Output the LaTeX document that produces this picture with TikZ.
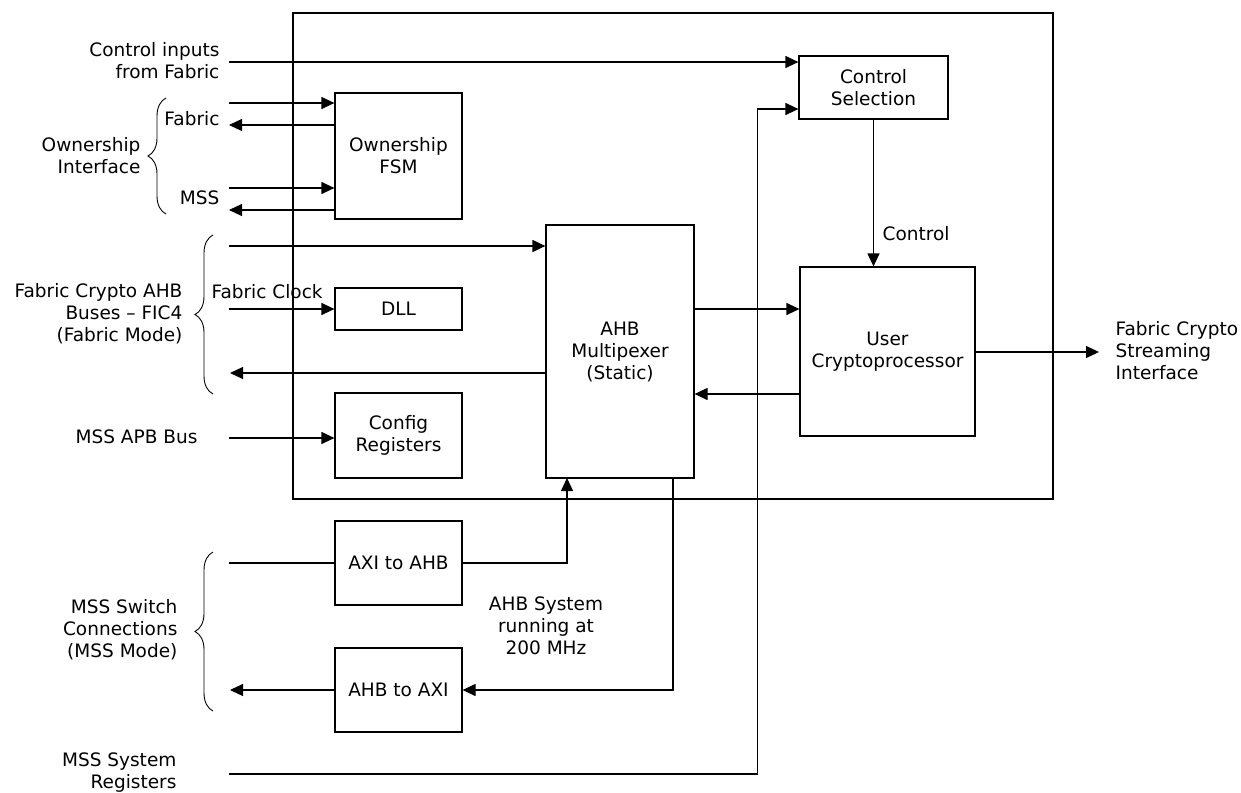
\documentclass[tikz,border=0pt]{standalone}
\usepackage{fontspec}
\setmainfont{DejaVu Sans}
\usetikzlibrary{arrows.meta,decorations.pathreplacing}
\begin{document}
\begin{tikzpicture}[x=1pt,y=-1pt,
  line width=1.2pt,
  every node/.style={font=\fontsize{18.5}{22}\selectfont, inner sep=0pt},
  blk/.style={draw, line width=1.2pt, align=center},
  arr/.style={-{Triangle[length=13pt,width=12pt]}},
  lbl/.style={align=right, anchor=east},
  brc/.style={decorate, decoration={brace, amplitude=18pt, aspect=0.5}, line width=0.9pt}
]
\useasboundingbox (0,0) rectangle (1241,792);

% outer box
\draw (293,13) rectangle (1053,499);

% blocks
\node[blk, minimum width=127pt, minimum height=126pt] (fsm) at (398.5,156) {Ownership\\FSM};
\node[blk, minimum width=127pt, minimum height=42pt] (dll) at (398.5,309) {DLL};
\node[blk, minimum width=127pt, minimum height=85pt] (cfg) at (398.5,435.5) {Config\\Registers};
\node[blk, minimum width=148pt, minimum height=253pt] (mux) at (620,351.5) {AHB\\Multipexer\\(Static)};
\node[blk, minimum width=149pt, minimum height=63pt] (cs) at (873.5,87.5) {Control\\Selection};
\node[blk, minimum width=175pt, minimum height=169pt] (uc) at (887.5,351.5) {User\\Cryptoprocessor};
\node[blk, minimum width=127pt, minimum height=84pt] (a2h) at (398.5,563) {AXI to AHB};
\node[blk, minimum width=127pt, minimum height=84pt] (h2a) at (398.5,690) {AHB to AXI};

% free ends
\coordinate (ci) at (229,62);
\coordinate (fabIn) at (229,103);
\coordinate (fabOut) at (229,125);
\coordinate (mssIn) at (229,188);
\coordinate (mssOut) at (229,210);
\coordinate (ahbIn) at (229,246);
\coordinate (clk) at (229,309);
\coordinate (ahbOut) at (230,373);
\coordinate (apb) at (229,438);
\coordinate (axiIn) at (229,563);
\coordinate (axiOut) at (230,690);
\coordinate (sysreg) at (229,774);
\coordinate (srTurn) at (757.5,774);
\coordinate (csIn2) at (757.5,109);
\coordinate (muxIn) at (567,478);
\coordinate (muxOut) at (673,478);
\coordinate (stream) at (1099,352);

% connectors
\draw[arr] (ci) -- (ci -| cs.west);
\draw[arr] (fabIn) -- (fabIn -| fsm.west);
\draw[arr] (fabOut -| fsm.west) -- (fabOut);
\draw[arr] (mssIn) -- (mssIn -| fsm.west);
\draw[arr] (mssOut -| fsm.west) -- (mssOut);
\draw[arr] (ahbIn) -- (ahbIn -| mux.west);
\draw[arr] (clk) -- (dll.west);
\draw[arr] (ahbOut -| mux.west) -- (ahbOut);
\draw[arr] (apb) -- (apb -| cfg.west);
\draw[arr] (mux.east |- 0,309) -- (uc.west |- 0,309);
\draw[arr] (uc.west |- 0,394) -- (mux.east |- 0,394);
\draw[arr] (cs.south) -- (cs.south |- uc.north);
\draw[arr] (uc.east |- stream) -- (stream);
\draw (axiIn) -- (a2h.west);
\draw[arr] (a2h.east) -| (muxIn);
\draw[arr] (muxOut) |- (h2a.east);
\draw[arr] (h2a.west) -- (axiOut);
\draw[arr] (sysreg) -- (srTurn) -- (csIn2) -- (csIn2 -| cs.west);

% braces
\draw[brc] (166,214) -- (166,98);
\draw[brc] (213,394) -- (213,235);
\draw[brc] (213,711) -- (213,552);

% labels
\node[lbl] (lci) at (220,61) {Control inputs\\from Fabric};
\node[lbl] (lfab) at (220,119) {Fabric};
\node[lbl] (lmss) at (220,198) {MSS};
\node[lbl] (lown) at (141,156) {Ownership\\Interface};
\node[lbl] (lfc) at (183,314) {Fabric Crypto AHB\\Buses – FIC4\\(Fabric Mode)};
\node[anchor=west] (lclk) at (211,292) {Fabric Clock};
\node[lbl] (lapb) at (198,437) {MSS APB Bus};
\node[lbl] (lsw) at (178,630) {MSS Switch\\Connections\\(MSS Mode)};
\node[align=center] (lahb) at (546,626) {AHB System\\running at\\200 MHz};
\node[lbl] (lsr) at (177,773) {MSS System\\Registers};
\node[anchor=west, align=left] (lstr) at (1115,351) {Fabric Crypto\\Streaming\\Interface};
\node[anchor=west] (lctl) at (882,234) {Control};
\end{tikzpicture}
\end{document}
